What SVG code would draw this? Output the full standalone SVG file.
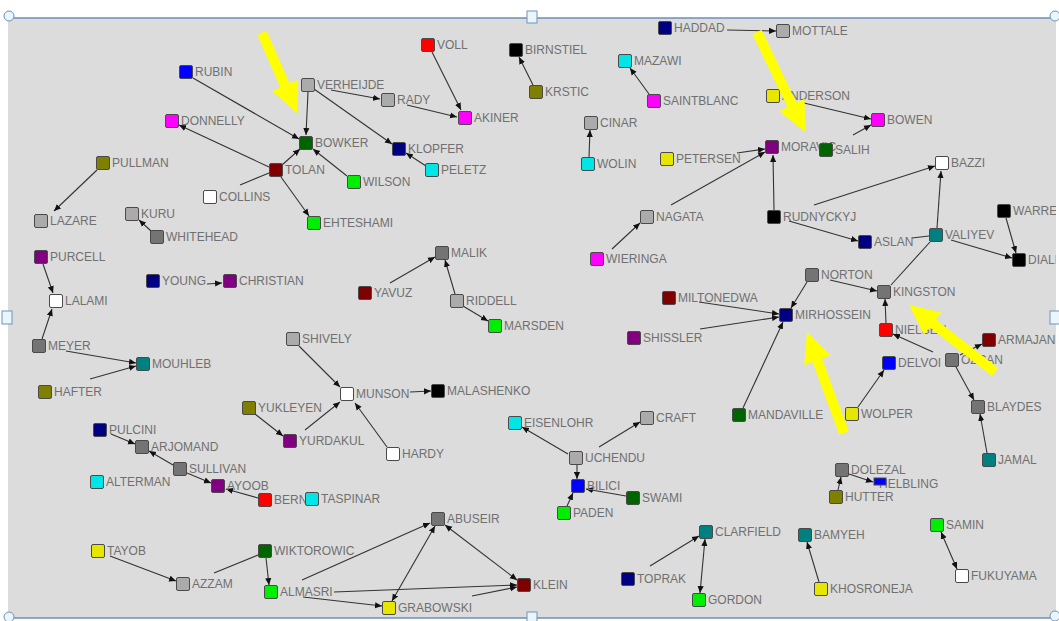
<svg xmlns="http://www.w3.org/2000/svg" width="1059" height="621" viewBox="0 0 1059 621">
<defs>
<style>
.n{stroke:#4a4a4a;stroke-width:1}
.l{font-family:"Liberation Sans",Arial,sans-serif;font-size:12px;fill:#707070}
.e{stroke:#333;stroke-width:1.1;fill:none}
.a{marker-end:url(#ah)}
.b{marker-start:url(#ah);marker-end:url(#ah)}
.lg{fill:#ababab}.dg{fill:#747474}.w{fill:#fff}.bl{fill:#0000ff}.nv{fill:#000080}.mg{fill:#ff00ff}.pu{fill:#800080}.ol{fill:#808000}.dr{fill:#800000}.rd{fill:#ff0000}.dgr{fill:#006400}.gr{fill:#00ee00}.cy{fill:#00e5e5}.tl{fill:#008080}.ye{fill:#e6e600}.bk{fill:#000}
.yl{fill:#ffff00}
.h{fill:#eaf6fb;stroke:#6d93c0;stroke-width:1}
</style>
<marker id="ah" viewBox="0 0 8 8" refX="8" refY="4" markerWidth="7" markerHeight="7" markerUnits="userSpaceOnUse" orient="auto-start-reverse"><path d="M0,0.5 L8,4 L0,7.5 z" fill="#111"/></marker>
<clipPath id="frame"><rect x="8" y="18" width="1048" height="600"/></clipPath>
</defs>
<rect x="0" y="0" width="1059" height="621" fill="#fff"/>
<rect x="8" y="18" width="1048" height="600" fill="#dcdcdc"/>
<line x1="8" y1="18" x2="1056" y2="18" stroke="#6d8fbb" stroke-width="1.5"/>
<line x1="8" y1="618" x2="1056" y2="618" stroke="#6d8fbb" stroke-width="1.5"/>
<g clip-path="url(#frame)">
<g id="connectors">
<line class="e a" x1="193" y1="78" x2="299" y2="139"/>
<line class="e a" x1="269" y1="167" x2="179" y2="125"/>
<line class="e" x1="240" y1="185" x2="269" y2="173"/>
<line class="e a" x1="308" y1="92" x2="306" y2="135"/>
<line class="e a" x1="331" y1="90" x2="380" y2="99"/>
<line class="e a" x1="314" y1="89" x2="392" y2="144"/>
<line class="e a" x1="407" y1="105" x2="457" y2="117"/>
<line class="e a" x1="432" y1="52" x2="461" y2="110"/>
<line class="e a" x1="426" y1="166" x2="406" y2="153"/>
<line class="e a" x1="282" y1="165" x2="300" y2="149"/>
<line class="e a" x1="347" y1="176" x2="313" y2="149"/>
<line class="e a" x1="281" y1="177" x2="309" y2="216"/>
<line class="e a" x1="390" y1="283" x2="435" y2="257"/>
<line class="e a" x1="455" y1="294" x2="445" y2="260"/>
<line class="e a" x1="463" y1="306" x2="488" y2="321"/>
<line class="e a" x1="727" y1="30" x2="776" y2="31"/>
<line class="e a" x1="533" y1="85" x2="519" y2="57"/>
<line class="e a" x1="649" y1="94" x2="630" y2="68"/>
<line class="e a" x1="589" y1="157" x2="590" y2="130"/>
<line class="e a" x1="737" y1="153" x2="765" y2="149"/>
<line class="e a" x1="671" y1="205" x2="765" y2="152"/>
<line class="e a" x1="612" y1="249" x2="640" y2="223"/>
<line class="e a" x1="774" y1="210" x2="773" y2="155"/>
<line class="e a" x1="804" y1="103" x2="871" y2="119"/>
<line class="e a" x1="853" y1="135" x2="871" y2="125"/>
<line class="e a" x1="814" y1="205" x2="935" y2="166"/>
<line class="e a" x1="789" y1="221" x2="858" y2="241"/>
<line class="e" x1="912" y1="238" x2="929" y2="236"/>
<line class="e a" x1="937" y1="228" x2="941" y2="171"/>
<line class="e a" x1="951" y1="240" x2="1012" y2="258"/>
<line class="e a" x1="1006" y1="218" x2="1016" y2="253"/>
<line class="e" x1="930" y1="242" x2="891" y2="285"/>
<line class="e a" x1="830" y1="280" x2="877" y2="291"/>
<line class="e a" x1="807" y1="282" x2="791" y2="308"/>
<line class="e a" x1="699" y1="302" x2="779" y2="314"/>
<line class="e a" x1="700" y1="329" x2="779" y2="317"/>
<line class="e a" x1="743" y1="408" x2="783" y2="322"/>
<line class="e a" x1="886" y1="323" x2="885" y2="299"/>
<line class="e a" x1="933" y1="352" x2="893" y2="334"/>
<line class="e a" x1="960" y1="355" x2="982" y2="344"/>
<line class="e a" x1="956" y1="367" x2="974" y2="400"/>
<line class="e a" x1="987" y1="453" x2="980" y2="414"/>
<line class="e a" x1="858" y1="407" x2="884" y2="370"/>
<line class="e a" x1="849" y1="474" x2="873" y2="482"/>
<line class="e a" x1="838" y1="490" x2="841" y2="477"/>
<line class="e a" x1="819" y1="582" x2="807" y2="542"/>
<line class="e b" x1="957" y1="569" x2="941" y2="532"/>
<line class="e a" x1="568" y1="454" x2="522" y2="427"/>
<line class="e a" x1="599" y1="447" x2="640" y2="422"/>
<line class="e a" x1="577" y1="465" x2="577" y2="479"/>
<line class="e a" x1="567" y1="506" x2="573" y2="493"/>
<line class="e a" x1="626" y1="496" x2="586" y2="489"/>
<line class="e a" x1="650" y1="566" x2="699" y2="536"/>
<line class="e b" x1="700" y1="593" x2="705" y2="539"/>
<line class="e a" x1="299" y1="346" x2="340" y2="387"/>
<line class="e a" x1="410" y1="392" x2="431" y2="391"/>
<line class="e a" x1="305" y1="430" x2="340" y2="402"/>
<line class="e a" x1="387" y1="447" x2="355" y2="403"/>
<line class="e a" x1="255" y1="414" x2="283" y2="436"/>
<line class="e a" x1="43" y1="264" x2="53" y2="293"/>
<line class="e a" x1="42" y1="339" x2="52" y2="309"/>
<line class="e a" x1="66" y1="351" x2="136" y2="363"/>
<line class="e a" x1="90" y1="379" x2="136" y2="366"/>
<line class="e a" x1="111" y1="434" x2="135" y2="444"/>
<line class="e a" x1="173" y1="465" x2="149" y2="451"/>
<line class="e a" x1="187" y1="473" x2="211" y2="483"/>
<line class="e a" x1="258" y1="498" x2="226" y2="489"/>
<line class="e a" x1="110" y1="556" x2="176" y2="581"/>
<line class="e" x1="214" y1="573" x2="258" y2="555"/>
<line class="e a" x1="266" y1="558" x2="269" y2="585"/>
<line class="e a" x1="302" y1="580" x2="430" y2="523"/>
<line class="e a" x1="334" y1="592" x2="517" y2="585"/>
<line class="e a" x1="303" y1="597" x2="382" y2="606"/>
<line class="e b" x1="392" y1="601" x2="435" y2="526"/>
<line class="e b" x1="445" y1="525" x2="517" y2="580"/>
<line class="e a" x1="472" y1="596" x2="517" y2="587"/>
<line class="e a" x1="151" y1="231" x2="139" y2="220"/>
<line class="e a" x1="97" y1="170" x2="54" y2="211"/>
<line class="e a" x1="207" y1="284" x2="222" y2="283"/>
</g>
<g id="n-RUBIN"><rect class="n bl" x="179.5" y="65.5" width="13" height="13" rx="1.5"/><text class="l" x="195" y="76">RUBIN</text></g>
<g id="n-DONNELLY"><rect class="n mg" x="165.5" y="114.5" width="13" height="13" rx="1.5"/><text class="l" x="181" y="125">DONNELLY</text></g>
<g id="n-PULLMAN"><rect class="n ol" x="96.5" y="156.5" width="13" height="13" rx="1.5"/><text class="l" x="112" y="167">PULLMAN</text></g>
<g id="n-LAZARE"><rect class="n lg" x="34.5" y="214.5" width="13" height="13" rx="1.5"/><text class="l" x="50" y="225">LAZARE</text></g>
<g id="n-COLLINS"><rect class="n w" x="203.5" y="190.5" width="13" height="13" rx="1.5"/><text class="l" x="219" y="201">COLLINS</text></g>
<g id="n-KURU"><rect class="n lg" x="125.5" y="207.5" width="13" height="13" rx="1.5"/><text class="l" x="141" y="218">KURU</text></g>
<g id="n-WHITEHEAD"><rect class="n dg" x="150.5" y="230.5" width="13" height="13" rx="1.5"/><text class="l" x="166" y="241">WHITEHEAD</text></g>
<g id="n-PURCELL"><rect class="n pu" x="34.5" y="250.5" width="13" height="13" rx="1.5"/><text class="l" x="50" y="261">PURCELL</text></g>
<g id="n-LALAMI"><rect class="n w" x="49.5" y="294.5" width="13" height="13" rx="1.5"/><text class="l" x="65" y="305">LALAMI</text></g>
<g id="n-YOUNG"><rect class="n nv" x="146.5" y="274.5" width="13" height="13" rx="1.5"/><text class="l" x="162" y="285">YOUNG</text></g>
<g id="n-CHRISTIAN"><rect class="n pu" x="223.5" y="274.5" width="13" height="13" rx="1.5"/><text class="l" x="239" y="285">CHRISTIAN</text></g>
<g id="n-VERHEIJDE"><rect class="n lg" x="301.5" y="78.5" width="13" height="13" rx="1.5"/><text class="l" x="317" y="89">VERHEIJDE</text></g>
<g id="n-RADY"><rect class="n lg" x="381.5" y="93.5" width="13" height="13" rx="1.5"/><text class="l" x="397" y="104">RADY</text></g>
<g id="n-VOLL"><rect class="n rd" x="421.5" y="38.5" width="13" height="13" rx="1.5"/><text class="l" x="437" y="49">VOLL</text></g>
<g id="n-AKINER"><rect class="n mg" x="458.5" y="111.5" width="13" height="13" rx="1.5"/><text class="l" x="474" y="122">AKINER</text></g>
<g id="n-BOWKER"><rect class="n dgr" x="299.5" y="136.5" width="13" height="13" rx="1.5"/><text class="l" x="315" y="147">BOWKER</text></g>
<g id="n-KLOPFER"><rect class="n nv" x="392.5" y="142.5" width="13" height="13" rx="1.5"/><text class="l" x="408" y="153">KLOPFER</text></g>
<g id="n-TOLAN"><rect class="n dr" x="269.5" y="163.5" width="13" height="13" rx="1.5"/><text class="l" x="285" y="174">TOLAN</text></g>
<g id="n-PELETZ"><rect class="n cy" x="425.5" y="163.5" width="13" height="13" rx="1.5"/><text class="l" x="441" y="174">PELETZ</text></g>
<g id="n-WILSON"><rect class="n gr" x="347.5" y="175.5" width="13" height="13" rx="1.5"/><text class="l" x="363" y="186">WILSON</text></g>
<g id="n-EHTESHAMI"><rect class="n gr" x="307.5" y="216.5" width="13" height="13" rx="1.5"/><text class="l" x="323" y="227">EHTESHAMI</text></g>
<g id="n-MALIK"><rect class="n dg" x="435.5" y="246.5" width="13" height="13" rx="1.5"/><text class="l" x="451" y="257">MALIK</text></g>
<g id="n-YAVUZ"><rect class="n dr" x="358.5" y="286.5" width="13" height="13" rx="1.5"/><text class="l" x="374" y="297">YAVUZ</text></g>
<g id="n-RIDDELL"><rect class="n lg" x="450.5" y="294.5" width="13" height="13" rx="1.5"/><text class="l" x="466" y="305">RIDDELL</text></g>
<g id="n-MARSDEN"><rect class="n gr" x="488.5" y="319.5" width="13" height="13" rx="1.5"/><text class="l" x="504" y="330">MARSDEN</text></g>
<g id="n-HADDAD"><rect class="n nv" x="658.5" y="21.5" width="13" height="13" rx="1.5"/><text class="l" x="674" y="32">HADDAD</text></g>
<g id="n-MOTTALE"><rect class="n lg" x="776.5" y="24.5" width="13" height="13" rx="1.5"/><text class="l" x="792" y="35">MOTTALE</text></g>
<g id="n-BIRNSTIEL"><rect class="n bk" x="509.5" y="43.5" width="13" height="13" rx="1.5"/><text class="l" x="525" y="54">BIRNSTIEL</text></g>
<g id="n-KRSTIC"><rect class="n ol" x="529.5" y="85.5" width="13" height="13" rx="1.5"/><text class="l" x="545" y="96">KRSTIC</text></g>
<g id="n-MAZAWI"><rect class="n cy" x="618.5" y="54.5" width="13" height="13" rx="1.5"/><text class="l" x="634" y="65">MAZAWI</text></g>
<g id="n-SAINTBLANC"><rect class="n mg" x="647.5" y="94.5" width="13" height="13" rx="1.5"/><text class="l" x="663" y="105">SAINTBLANC</text></g>
<g id="n-CINAR"><rect class="n lg" x="584.5" y="116.5" width="13" height="13" rx="1.5"/><text class="l" x="600" y="127">CINAR</text></g>
<g id="n-WOLIN"><rect class="n cy" x="581.5" y="157.5" width="13" height="13" rx="1.5"/><text class="l" x="597" y="168">WOLIN</text></g>
<g id="n-PETERSEN"><rect class="n ye" x="660.5" y="152.5" width="13" height="13" rx="1.5"/><text class="l" x="676" y="163">PETERSEN</text></g>
<g id="n-MORAVIC"><rect class="n pu" x="765.5" y="140.5" width="13" height="13" rx="1.5"/><text class="l" x="781" y="151">MORAVIC</text></g>
<g id="n-NAGATA"><rect class="n lg" x="640.5" y="210.5" width="13" height="13" rx="1.5"/><text class="l" x="656" y="221">NAGATA</text></g>
<g id="n-WIERINGA"><rect class="n mg" x="590.5" y="252.5" width="13" height="13" rx="1.5"/><text class="l" x="606" y="263">WIERINGA</text></g>
<g id="n-MILTONEDWA"><rect class="n dr" x="662.5" y="291.5" width="13" height="13" rx="1.5"/><text class="l" x="678" y="302">MILTONEDWA</text></g>
<g id="n-RUDNYCKYJ"><rect class="n bk" x="767.5" y="210.5" width="13" height="13" rx="1.5"/><text class="l" x="783" y="221">RUDNYCKYJ</text></g>
<g id="n-ANDERSON"><rect class="n ye" x="766.5" y="89.5" width="13" height="13" rx="1.5"/><text class="l" x="782" y="100">ANDERSON</text></g>
<g id="n-BOWEN"><rect class="n mg" x="871.5" y="113.5" width="13" height="13" rx="1.5"/><text class="l" x="887" y="124">BOWEN</text></g>
<g id="n-SALIH"><rect class="n dgr" x="819.5" y="143.5" width="13" height="13" rx="1.5"/><text class="l" x="835" y="154">SALIH</text></g>
<g id="n-BAZZI"><rect class="n w" x="935.5" y="156.5" width="13" height="13" rx="1.5"/><text class="l" x="951" y="167">BAZZI</text></g>
<g id="n-WARREN"><rect class="n bk" x="997.5" y="204.5" width="13" height="13" rx="1.5"/><text class="l" x="1013" y="215">WARREN</text></g>
<g id="n-DIALLO"><rect class="n bk" x="1012.5" y="253.5" width="13" height="13" rx="1.5"/><text class="l" x="1028" y="264">DIALLO</text></g>
<g id="n-VALIYEV"><rect class="n tl" x="929.5" y="228.5" width="13" height="13" rx="1.5"/><text class="l" x="945" y="239">VALIYEV</text></g>
<g id="n-ASLAN"><rect class="n nv" x="858.5" y="235.5" width="13" height="13" rx="1.5"/><text class="l" x="874" y="246">ASLAN</text></g>
<g id="n-NORTON"><rect class="n dg" x="805.5" y="268.5" width="13" height="13" rx="1.5"/><text class="l" x="821" y="279">NORTON</text></g>
<g id="n-KINGSTON"><rect class="n dg" x="877.5" y="285.5" width="13" height="13" rx="1.5"/><text class="l" x="893" y="296">KINGSTON</text></g>
<g id="n-MIRHOSSEIN"><rect class="n nv" x="779.5" y="308.5" width="13" height="13" rx="1.5"/><text class="l" x="795" y="319">MIRHOSSEIN</text></g>
<g id="n-SHISSLER"><rect class="n pu" x="627.5" y="331.5" width="13" height="13" rx="1.5"/><text class="l" x="643" y="342">SHISSLER</text></g>
<g id="n-MANDAVILLE"><rect class="n dgr" x="732.5" y="408.5" width="13" height="13" rx="1.5"/><text class="l" x="748" y="419">MANDAVILLE</text></g>
<g id="n-NIELSEN"><rect class="n rd" x="879.5" y="323.5" width="13" height="13" rx="1.5"/><text class="l" x="895" y="334">NIELSEN</text></g>
<g id="n-DELVOI"><rect class="n bl" x="882.5" y="356.5" width="13" height="13" rx="1.5"/><text class="l" x="898" y="367">DELVOI</text></g>
<g id="n-WOLPER"><rect class="n ye" x="845.5" y="407.5" width="13" height="13" rx="1.5"/><text class="l" x="861" y="418">WOLPER</text></g>
<g id="n-CRAFT"><rect class="n lg" x="640.5" y="411.5" width="13" height="13" rx="1.5"/><text class="l" x="656" y="422">CRAFT</text></g>
<g id="n-ARMAJANI"><rect class="n dr" x="982.5" y="333.5" width="13" height="13" rx="1.5"/><text class="l" x="998" y="344">ARMAJANI</text></g>
<g id="n-OZCAN"><rect class="n dg" x="945.5" y="353.5" width="13" height="13" rx="1.5"/><text class="l" x="961" y="364">OZCAN</text></g>
<g id="n-BLAYDES"><rect class="n dg" x="971.5" y="400.5" width="13" height="13" rx="1.5"/><text class="l" x="987" y="411">BLAYDES</text></g>
<g id="n-JAMAL"><rect class="n tl" x="982.5" y="453.5" width="13" height="13" rx="1.5"/><text class="l" x="998" y="464">JAMAL</text></g>
<g id="n-DOLEZAL"><rect class="n dg" x="835.5" y="463.5" width="13" height="13" rx="1.5"/><text class="l" x="851" y="474">DOLEZAL</text></g>
<g id="n-HELBLING"><text class="l" x="879" y="488">HELBLING</text><rect class="n bl" x="874" y="478" width="12" height="7"/></g>
<g id="n-HUTTER"><rect class="n ol" x="829.5" y="490.5" width="13" height="13" rx="1.5"/><text class="l" x="845" y="501">HUTTER</text></g>
<g id="n-BAMYEH"><rect class="n tl" x="798.5" y="528.5" width="13" height="13" rx="1.5"/><text class="l" x="814" y="539">BAMYEH</text></g>
<g id="n-KHOSRONEJA"><rect class="n ye" x="814.5" y="582.5" width="13" height="13" rx="1.5"/><text class="l" x="830" y="593">KHOSRONEJA</text></g>
<g id="n-SAMIN"><rect class="n gr" x="930.5" y="518.5" width="13" height="13" rx="1.5"/><text class="l" x="946" y="529">SAMIN</text></g>
<g id="n-FUKUYAMA"><rect class="n w" x="955.5" y="569.5" width="13" height="13" rx="1.5"/><text class="l" x="971" y="580">FUKUYAMA</text></g>
<g id="n-EISENLOHR"><rect class="n cy" x="508.5" y="416.5" width="13" height="13" rx="1.5"/><text class="l" x="524" y="427">EISENLOHR</text></g>
<g id="n-UCHENDU"><rect class="n lg" x="569.5" y="451.5" width="13" height="13" rx="1.5"/><text class="l" x="585" y="462">UCHENDU</text></g>
<g id="n-BILICI"><rect class="n bl" x="571.5" y="479.5" width="13" height="13" rx="1.5"/><text class="l" x="587" y="490">BILICI</text></g>
<g id="n-SWAMI"><rect class="n dgr" x="626.5" y="491.5" width="13" height="13" rx="1.5"/><text class="l" x="642" y="502">SWAMI</text></g>
<g id="n-PADEN"><rect class="n gr" x="557.5" y="506.5" width="13" height="13" rx="1.5"/><text class="l" x="573" y="517">PADEN</text></g>
<g id="n-CLARFIELD"><rect class="n tl" x="699.5" y="525.5" width="13" height="13" rx="1.5"/><text class="l" x="715" y="536">CLARFIELD</text></g>
<g id="n-TOPRAK"><rect class="n nv" x="621.5" y="572.5" width="13" height="13" rx="1.5"/><text class="l" x="637" y="583">TOPRAK</text></g>
<g id="n-GORDON"><rect class="n gr" x="692.5" y="593.5" width="13" height="13" rx="1.5"/><text class="l" x="708" y="604">GORDON</text></g>
<g id="n-KLEIN"><rect class="n dr" x="517.5" y="578.5" width="13" height="13" rx="1.5"/><text class="l" x="533" y="589">KLEIN</text></g>
<g id="n-SHIVELY"><rect class="n lg" x="286.5" y="332.5" width="13" height="13" rx="1.5"/><text class="l" x="302" y="343">SHIVELY</text></g>
<g id="n-MUNSON"><rect class="n w" x="340.5" y="387.5" width="13" height="13" rx="1.5"/><text class="l" x="356" y="398">MUNSON</text></g>
<g id="n-MALASHENKO"><rect class="n bk" x="431.5" y="384.5" width="13" height="13" rx="1.5"/><text class="l" x="447" y="395">MALASHENKO</text></g>
<g id="n-YUKLEYEN"><rect class="n ol" x="242.5" y="401.5" width="13" height="13" rx="1.5"/><text class="l" x="258" y="412">YUKLEYEN</text></g>
<g id="n-YURDAKUL"><rect class="n pu" x="283.5" y="434.5" width="13" height="13" rx="1.5"/><text class="l" x="299" y="445">YURDAKUL</text></g>
<g id="n-HARDY"><rect class="n w" x="386.5" y="447.5" width="13" height="13" rx="1.5"/><text class="l" x="402" y="458">HARDY</text></g>
<g id="n-BERN"><rect class="n rd" x="258.5" y="493.5" width="13" height="13" rx="1.5"/><text class="l" x="274" y="504">BERN</text></g>
<g id="n-TASPINAR"><rect class="n cy" x="305.5" y="492.5" width="13" height="13" rx="1.5"/><text class="l" x="321" y="503">TASPINAR</text></g>
<g id="n-ABUSEIR"><rect class="n dg" x="431.5" y="512.5" width="13" height="13" rx="1.5"/><text class="l" x="447" y="523">ABUSEIR</text></g>
<g id="n-WIKTOROWIC"><rect class="n dgr" x="258.5" y="544.5" width="13" height="13" rx="1.5"/><text class="l" x="274" y="555">WIKTOROWIC</text></g>
<g id="n-ALMASRI"><rect class="n gr" x="264.5" y="585.5" width="13" height="13" rx="1.5"/><text class="l" x="280" y="596">ALMASRI</text></g>
<g id="n-GRABOWSKI"><rect class="n ye" x="382.5" y="601.5" width="13" height="13" rx="1.5"/><text class="l" x="398" y="612">GRABOWSKI</text></g>
<g id="n-MEYER"><rect class="n dg" x="32.5" y="339.5" width="13" height="13" rx="1.5"/><text class="l" x="48" y="350">MEYER</text></g>
<g id="n-MOUHLEB"><rect class="n tl" x="136.5" y="357.5" width="13" height="13" rx="1.5"/><text class="l" x="152" y="368">MOUHLEB</text></g>
<g id="n-HAFTER"><rect class="n ol" x="38.5" y="385.5" width="13" height="13" rx="1.5"/><text class="l" x="54" y="396">HAFTER</text></g>
<g id="n-PULCINI"><rect class="n nv" x="93.5" y="423.5" width="13" height="13" rx="1.5"/><text class="l" x="109" y="434">PULCINI</text></g>
<g id="n-ARJOMAND"><rect class="n dg" x="135.5" y="440.5" width="13" height="13" rx="1.5"/><text class="l" x="151" y="451">ARJOMAND</text></g>
<g id="n-SULLIVAN"><rect class="n dg" x="173.5" y="462.5" width="13" height="13" rx="1.5"/><text class="l" x="189" y="473">SULLIVAN</text></g>
<g id="n-ALTERMAN"><rect class="n cy" x="90.5" y="475.5" width="13" height="13" rx="1.5"/><text class="l" x="106" y="486">ALTERMAN</text></g>
<g id="n-AYOOB"><rect class="n pu" x="211.5" y="479.5" width="13" height="13" rx="1.5"/><text class="l" x="227" y="490">AYOOB</text></g>
<g id="n-TAYOB"><rect class="n ye" x="91.5" y="544.5" width="13" height="13" rx="1.5"/><text class="l" x="107" y="555">TAYOB</text></g>
<g id="n-AZZAM"><rect class="n lg" x="176.5" y="577.5" width="13" height="13" rx="1.5"/><text class="l" x="192" y="588">AZZAM</text></g>
</g>
<g id="annotations">
<polygon class="yl" points="257.4,35 280.4,87.5 272.2,91.1 297,113 297.8,79.9 289.6,83.5 266.6,31"/>
<polygon class="yl" points="752.5,34.2 787.5,107.1 779.4,111 805,132 804.6,98.8 796.5,102.7 761.5,29.8"/>
<polygon class="yl" points="848.7,431.3 822,358.5 830.4,355.4 807,332 804.2,365 812.6,361.9 839.3,434.7"/>
<polygon class="yl" points="998.1,368.1 935.8,319.5 941.3,312.4 909,305 924.1,334.4 929.6,327.3 991.9,375.9"/>
</g>
<g id="handles">
<circle class="h" cx="9" cy="16" r="5"/>
<circle class="h" cx="1055" cy="16" r="5"/>
<circle class="h" cx="9" cy="617" r="5"/>
<circle class="h" cx="1055" cy="616" r="5"/>
<rect class="h" x="527" y="11" width="10" height="12"/>
<rect class="h" x="2" y="311" width="10" height="13"/>
<rect class="h" x="1050" y="311" width="10" height="13"/>
<rect class="h" x="527" y="612" width="10" height="12"/>
</g>
</svg>
